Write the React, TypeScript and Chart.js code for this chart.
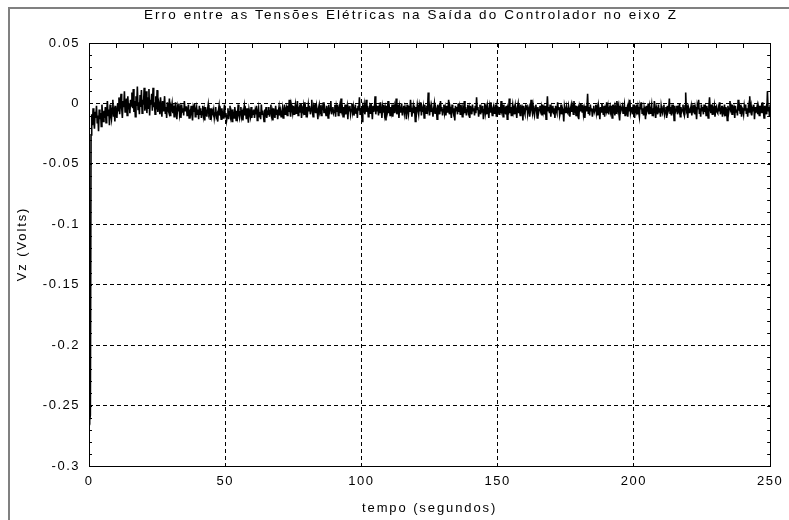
import React, { useEffect, useRef } from "react";
import { Chart, registerables } from "chart.js";

Chart.register(...registerables);

const TITLE = "Erro entre as Tensões Elétricas na Saída do Controlador no eixo Z";
const X_LABEL = "tempo (segundos)";
const Y_LABEL = "Vz (Volts)";
const X_TICKS = [0, 50, 100, 150, 200, 250];
const Y_TICKS = [0.05, 0, -0.05, -0.1, -0.15, -0.2, -0.25, -0.3];
const SAMPLE_INTERVAL_S = 0.25;

// error in millivolts, one sample every 0.25 s
const errStart = [-260, -262, -258];
const err0to50 = [
  -26, -9, -18, -4, -14, -21, -7, -12, -2, -16, -10, -23, -5, -13, -8, -19, -1, -11, -15, -6,
  -12, -3, -16, -8, 2, -10, -5, -18, -1, -9, -13, -4, 3, -11, -7, -15, -2, -8, -12, 0,
  -6, 5, -9, -1, 8, -4, -12, 2, -3, 10, -7, -1, 4, -10, 6, -5, 0, -8, 3, -2,
  9, -4, 12, -7, 2, -11, 6, -2, 14, -5, 1, -9, 7, -3, 11, -8, 3, -1, 13, -6,
  -2, 10, -8, 5, -4, 12, -10, 3, -1, 8, -6, 13, -3, 1, -9, 6, -5, 11, -7, 2,
  -1, -9, 5, -4, -11, 2, -6, -2, 6, -8, -3, -12, 1, -5, -7, 4, -10, -2, -4, 0,
  -8, -2, -11, -4, 1, -7, -13, -3, -6, 0, -9, -5, -12, -1, -7, -4, -10, 2, -6, -3,
  -3, -10, -6, -1, -12, -5, -8, -2, -9, -14, -4, -7, 0, -11, -6, -3, -9, -5, -13, -2,
  -9, -4, -12, -7, -2, -10, -6, -14, -3, -8, -11, -5, -1, -9, -7, -13, -4, -10, -6, -8,
  -5, -12, -8, -3, -11, -9, -15, -6, -2, -10, -7, -13, -4, -9, -12, -6, -1, -11, -8, -14,
];
const err50to100 = [
  -10, -4, -13, -7, -2, -11, -8, -15, -5, -9, -12, -3, -8, -14, -6, -10, -1, -9, -12, -7,
  -3, -11, -8, -14, -6, -2, -10, -7, -13, -4, -9, -16, -5, -8, -11, -3, -12, -7, -9, -5,
  -12, -6, -9, -2, -14, -8, -4, -11, -7, -13, -1, -9, -6, -10, -15, -5, -8, -3, -12, -7,
  -9, -3, -11, -6, -1, -10, -7, -14, -4, -8, -12, -2, -9, -5, -13, -7, -3, -10, -6, -11,
  -8, -4, -12, -6, -1, -9, -5, -3, -10, -2, -7, 3, -6, -11, -1, -4, -8, -2, -9, -5,
  -1, -8, -4, 2, -10, -5, -3, -7, 0, -12, -4, -6, -2, -9, 1, -5, -11, -3, -7, -1,
  -6, -2, -9, -4, 3, -7, -11, -3, -5, 0, -8, -2, -6, -13, -4, -1, -7, -5, -10, -3,
  -4, 1, -8, -3, -6, -10, -2, -5, -12, -1, -7, -4, 2, -9, -5, -3, -8, -6, -1, -11,
  -3, -7, -1, -10, -5, -2, -8, 4, -6, -4, -11, -3, -7, -1, -9, -5, -2, -13, -4, -6,
  -2, -9, -5, 0, -7, -3, -10, -6, -1, -8, -4, -12, -2, -6, 5, -9, -4, -7, -15, -3,
];
const err100to150 = [
  -5, -1, -9, -4, 3, -7, -2, -11, -6, -3, -8, 0, -5, -13, -2, -7, -4, 6, -9, -3,
  -6, -2, -10, -4, -8, 1, -5, -12, -3, -7, -1, -9, -5, -14, -2, -6, 2, -8, -4, -10,
  -3, -7, -1, -11, -5, -2, -8, -4, 4, -9, -6, -1, -12, -3, -7, -5, 0, -10, -4, -2,
  -8, -3, -6, -13, -1, -5, -9, -2, -7, 3, -4, -11, -6, -2, -8, -5, -15, -3, -7, -1,
  -5, -9, -2, -6, 1, -10, -4, -7, -3, -12, -1, -6, -8, -2, -5, 9, -4, -10, -3, -7,
  -2, -6, -11, -4, 0, -8, -3, -5, -13, -1, -7, -4, -9, 2, -6, -3, -10, -5, -1, -8,
  -4, -10, -2, -7, -5, 3, -9, -3, -6, -12, -1, -5, -8, -4, -14, -2, -6, -3, -9, 0,
  -7, -3, -9, -1, -5, -11, -4, -6, 2, -8, -3, -10, -5, -1, -7, -4, -12, -2, -6, -9,
  -1, -6, -4, -10, -2, -8, 5, -5, -3, -11, -6, -1, -9, -4, -7, -2, -13, -5, 0, -8,
  -4, -9, -2, -6, -12, -3, -7, 1, -5, -10, -4, -2, -8, -6, -1, -11, -3, -7, -5, -9,
];
const err150to200 = [
  -3, -8, 2, -6, -4, -11, -1, -7, -5, -9, -2, -13, -4, -6, 4, -8, -3, -10, -5, -1,
  -7, -4, -9, -2, -6, -12, -3, 0, -8, -5, -10, -1, -6, -4, -14, -2, -7, -9, -3, -5,
  -1, -9, -5, -3, -11, -6, 3, -4, -8, -2, -7, -10, -4, -1, -6, -12, -3, -8, -5, -2,
  -6, -3, -10, -1, -7, -4, -9, -2, -13, -5, 6, -6, -3, -8, -1, -11, -4, -7, -2, -9,
  -4, -12, -2, -6, -8, 1, -5, -3, -10, -7, -1, -9, -4, -6, -15, -2, -5, -8, -3, -7,
  -8, -2, -5, -11, -4, -1, -7, -3, -9, 2, -6, -4, -10, -2, -8, -5, -13, -3, -6, 0,
  -3, -7, -1, -9, -5, -12, -2, -6, -4, 8, -8, -3, -10, -1, -6, -4, -11, -5, -2, -7,
  -5, -1, -8, -4, -10, -2, -6, -13, -3, -7, 0, -5, -9, -2, -11, -4, -6, 1, -8, -3,
  -9, -4, -2, -7, -5, -12, -1, -6, -3, -10, -4, -8, 2, -5, -2, -9, -14, -3, -6, -4,
  -2, -8, -5, -1, -10, -3, -7, -4, -11, -2, -6, 3, -8, -5, -3, -9, -1, -7, -12, -4,
];
const err200to250 = [
  -6, -1, -9, -3, -7, -11, -2, -5, 1, -8, -4, -10, -3, -6, -13, -2, -7, -5, 0, -9,
  -3, -8, -5, -1, -10, -4, -7, 2, -6, -12, -3, -5, -9, -1, -7, -4, -11, -2, -6, -8,
  -4, -1, -9, -6, -3, -12, -2, -7, -5, 4, -8, -3, -10, -1, -6, -4, -14, -2, -7, -5,
  -2, -9, -4, -6, 0, -11, -3, -7, -5, -1, -8, -10, -2, 9, -6, -4, -12, -3, -5, -8,
  -5, -2, -10, -4, -7, -1, -9, -3, -6, -13, -2, -5, 3, -8, -4, -11, -1, -6, -3, -9,
  -1, -7, -4, -10, -2, -6, -12, -3, 5, -5, -8, -1, -9, -4, -6, -2, -11, -5, -3, -7,
  -8, -3, -6, 1, -9, -4, -2, -11, -5, -7, -1, -10, -3, -6, -14, -2, -8, -4, 2, -5,
  -3, -9, -1, -6, -4, -12, -2, -7, -5, -10, 3, -6, -3, -8, -1, -11, -4, -5, -9, -2,
  -6, -1, -8, -4, -11, -3, -7, 6, -5, -2, -10, -4, -6, -1, -13, -3, -8, -5, -2, -9,
  -4, -10, -2, -6, -3, -8, 1, -5, -12, -2, -7, -4, -9, 10, -6, -3, -11, -1, -5,
];

const FONT = '"Liberation Sans", Arial, sans-serif';

export default function App() {
  const ref = useRef<HTMLCanvasElement | null>(null);

  useEffect(() => {
    const canvas = ref.current;
    if (!canvas) return;
    const all = [...errStart, ...err0to50, ...err50to100, ...err100to150, ...err150to200, ...err200to250];
    const points = all.map((mv, i) => ({ x: i * SAMPLE_INTERVAL_S, y: mv / 1000 }));

    const decor = {
      id: "decor",
      beforeDraw(chart: any) {
        chart.ctx.letterSpacing = "1.5px";
      },
      afterDraw(chart: any) {
        const ctx = chart.ctx as CanvasRenderingContext2D;
        const a = chart.chartArea;
        const xs = chart.scales.x;
        const ys = chart.scales.y;
        ctx.save();
        ctx.strokeStyle = "#000";
        ctx.lineWidth = 1;
        ctx.setLineDash([]);
        ctx.beginPath();
        for (let v = 10; v < 250; v += 10) {
          const px = Math.round(xs.getPixelForValue(v)) + 0.5;
          ctx.moveTo(px, a.top);
          ctx.lineTo(px, a.top + 5);
        }
        for (let k = -29; k < 5; k++) {
          const py = Math.round(ys.getPixelForValue(k / 100)) + 0.5;
          ctx.moveTo(a.left, py);
          ctx.lineTo(a.left + 3, py);
          ctx.moveTo(a.right, py);
          ctx.lineTo(a.right - 3, py);
        }
        ctx.stroke();
        ctx.strokeRect(Math.round(a.left) + 0.5, Math.round(a.top) + 0.5, Math.round(a.right - a.left), Math.round(a.bottom - a.top));

        ctx.fillStyle = "#000";
        ctx.font = "13.5px " + FONT;
        (ctx as any).letterSpacing = "2.1px";
        ctx.textAlign = "center";
        ctx.textBaseline = "middle";
        ctx.fillText(TITLE, 411, 15);
        ctx.font = "13px " + FONT;
        (ctx as any).letterSpacing = "1.9px";
        ctx.fillText(X_LABEL, (a.left + a.right) / 2, 508);
        ctx.translate(22, 244);
        ctx.rotate(-Math.PI / 2);
        ctx.fillText(Y_LABEL, 0, 0);
        ctx.restore();
      },
    };

    const chart = new Chart(canvas, {
      type: "line",
      data: {
        datasets: [
          {
            data: points,
            borderColor: "#000",
            borderWidth: 1.6,
            pointRadius: 0,
            tension: 0,
            fill: false,
          },
        ],
      },
      options: {
        animation: false,
        responsive: false,
        devicePixelRatio: 1,
        parsing: false,
        layout: { padding: { left: 0, top: 43, right: 13, bottom: 0 } },
        plugins: { legend: { display: false }, title: { display: false }, tooltip: { enabled: false } },
        scales: {
          x: {
            type: "linear",
            min: 0,
            max: 250,
            afterBuildTicks: (s: any) => {
              s.ticks = X_TICKS.map((value) => ({ value }));
            },
            afterFit: (s: any) => {
              s.height = 54;
            },
            grid: { color: "#000", lineWidth: 1, drawTicks: false },
            border: { display: false, dash: [4, 3] },
            ticks: {
              color: "#000",
              font: { family: FONT, size: 13 },
              padding: 8,
              maxRotation: 0,
              autoSkip: false,
              callback: (v: any) => String(v),
            },
          },
          y: {
            type: "linear",
            min: -0.3,
            max: 0.05,
            afterBuildTicks: (s: any) => {
              s.ticks = Y_TICKS.map((value) => ({ value }));
            },
            afterFit: (s: any) => {
              s.width = 89;
            },
            grid: { color: "#000", lineWidth: 1, drawTicks: false },
            border: { display: false, dash: [4, 3] },
            ticks: {
              color: "#000",
              font: { family: FONT, size: 13 },
              padding: 9,
              autoSkip: false,
              callback: (v: any) => String(Math.round(Number(v) * 100) / 100),
            },
          },
        },
      },
      plugins: [decor],
    } as any);

    return () => chart.destroy();
  }, []);

  return (
    <div style={{ position: "fixed", left: 0, top: 0, width: 789, height: 520, background: "#fff", overflow: "hidden" }}>
      <div
        style={{
          position: "absolute",
          left: 8,
          top: 7,
          width: 1000,
          height: 1000,
          borderLeft: "2px solid #808080",
          borderTop: "2px solid #808080",
        }}
      />
      <canvas ref={ref} width={789} height={520} style={{ position: "absolute", left: 0, top: 0 }} />
    </div>
  );
}
